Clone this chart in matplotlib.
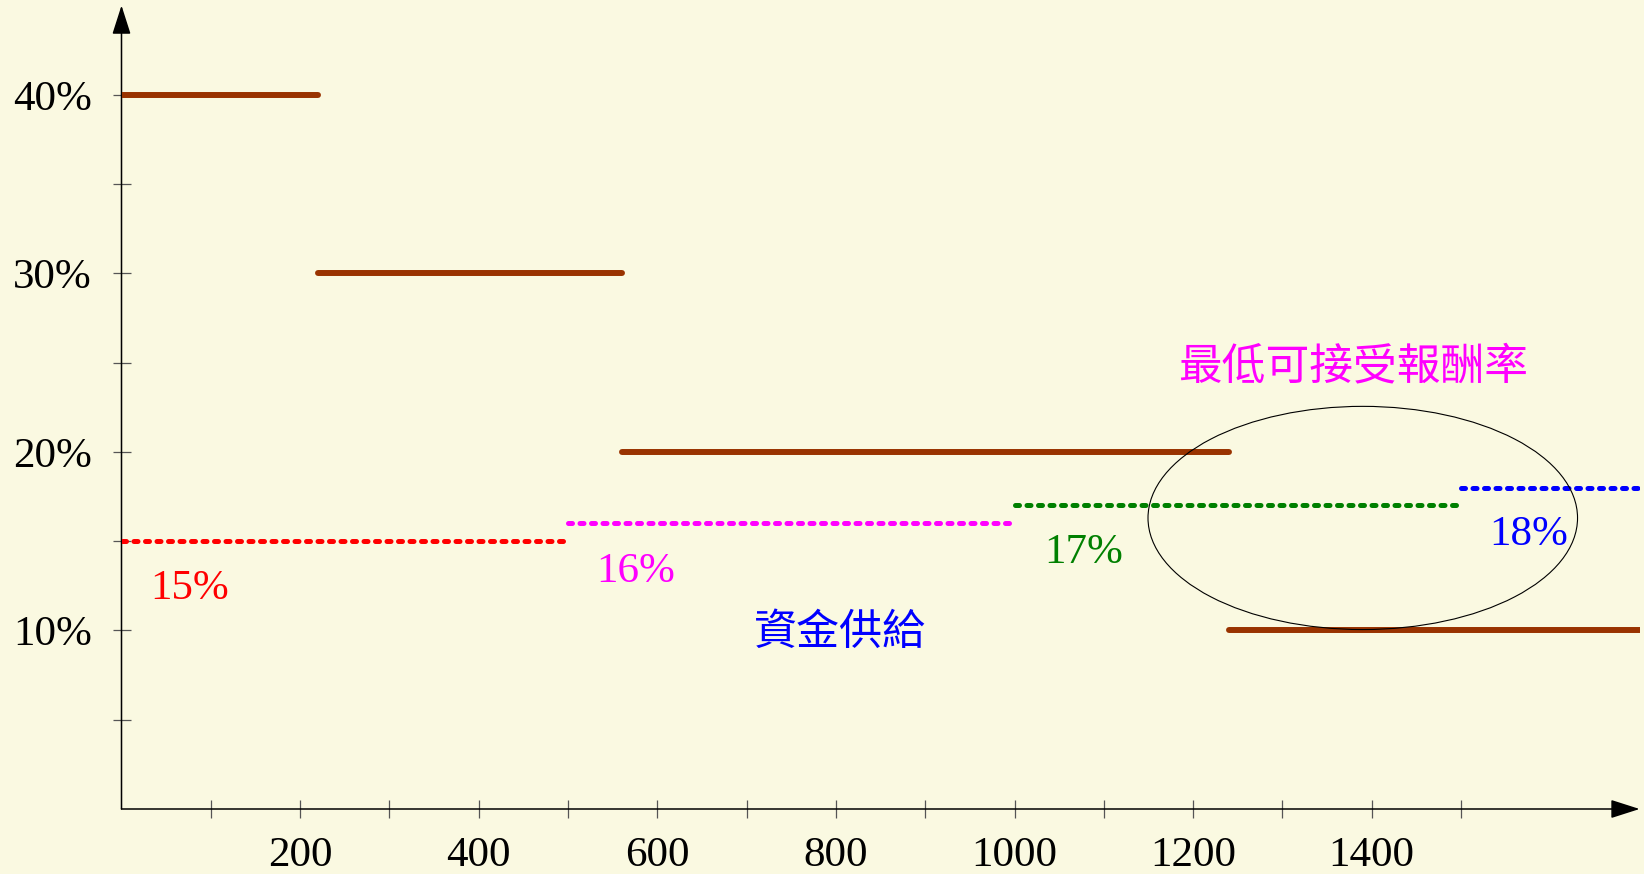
import matplotlib
matplotlib.use("Agg")
import matplotlib.pyplot as plt
from matplotlib.patches import Ellipse
from matplotlib.patches import ArrowStyle

# Required rate of return steps (investment amount -> rate, %)
demand_starts = [0, 220, 560, 1240]
demand_ends = [220, 560, 1240, 1700]
demand_rates = [40, 30, 20, 10]

# Minimum acceptable return per funding tranche
supply_starts = [0, 500, 1000, 1500]
supply_ends = [500, 1000, 1500, 1700]
supply_rates = [15, 16, 17, 18]
supply_labels = ["15%", "16%", "17%", "18%"]
supply_colors = ["#FF0000", "#FF00FF", "#008000", "#0000FF"]
label_pos = [(32, 11.76), (532, 12.73), (1033, 13.79), (1532, 14.78)]

x_ticks = list(range(100, 1600, 100))
x_tick_labels = ["", "200", "", "400", "", "600", "", "800", "", "1000",
                 "", "1200", "", "1400", ""]
y_ticks = [5, 10, 15, 20, 25, 30, 35, 40]
y_tick_labels = ["", "10%", "", "20%", "", "30%", "", "40%"]

supply_title = "資金供給"
hurdle_title = "最低可接受報酬率"

BG = "#FAF9E1"
SERIF = ["Liberation Serif", "DejaVu Serif"]
CJK = ["Noto Sans CJK TC", "DejaVu Sans"]

W, H = 1644, 874
fig = plt.figure(figsize=(W / 100, H / 100), dpi=100, facecolor=BG)
ax = fig.add_axes([121.5 / W, 65 / H, 1518.1 / W, 803.5 / H])
ax.set_facecolor(BG)
ax.set_xlim(0, 1700)
ax.set_ylim(0, 45)

for s in ax.spines.values():
    s.set_visible(False)

# Axes with arrowheads
style = ArrowStyle("-|>", head_length=1.0, head_width=0.32)
ax.annotate("", xy=(1, 0), xytext=(0, 0), xycoords="axes fraction",
            arrowprops=dict(arrowstyle=style, mutation_scale=18,
                            color="black", lw=1.1, shrinkA=0, shrinkB=0))
ax.annotate("", xy=(0, 1), xytext=(0, 0), xycoords="axes fraction",
            arrowprops=dict(arrowstyle=style, mutation_scale=18,
                            color="black", lw=1.1, shrinkA=0, shrinkB=0))

ax.set_xticks(x_ticks)
ax.set_xticklabels(x_tick_labels)
ax.set_yticks(y_ticks)
ax.set_yticklabels(y_tick_labels)
ax.tick_params(axis="both", direction="inout", length=13, width=0.9,
               color="#555555", labelsize=31)
ax.tick_params(axis="x", pad=13)
ax.tick_params(axis="y", pad=15)
for lab in ax.get_xticklabels() + ax.get_yticklabels():
    lab.set_fontfamily(SERIF)

# Supply tranches (dotted)
for x0, x1, r, c in zip(supply_starts, supply_ends, supply_rates, supply_colors):
    ax.plot([x0, x1], [r, r], color=c, lw=3.6, linestyle=(0, (0.8, 1.5)),
            dash_capstyle="round", solid_capstyle="round", zorder=3)

# Required return steps (solid)
for x0, x1, r in zip(demand_starts, demand_ends, demand_rates):
    ax.plot([x0, x1], [r, r], color="#993300", lw=4.3,
            solid_capstyle="round", zorder=4)

for (tx, ty), t, c in zip(label_pos, supply_labels, supply_colors):
    ax.text(tx, ty, t, color=c, fontsize=31, family=SERIF,
            ha="left", va="baseline")

ax.text(804, 9.85, supply_title, color="#0000FF", fontsize=31,
        family=CJK, ha="center", va="center")
ax.text(1379.5, 24.8, hurdle_title, color="#FF00FF", fontsize=31.5,
        family=CJK, ha="center", va="center")

ax.add_patch(Ellipse((1390, 16.3), 481, 12.5, fill=False,
                     edgecolor="black", lw=0.8, zorder=5))

fig.savefig("out.png", dpi=100, facecolor=BG)
